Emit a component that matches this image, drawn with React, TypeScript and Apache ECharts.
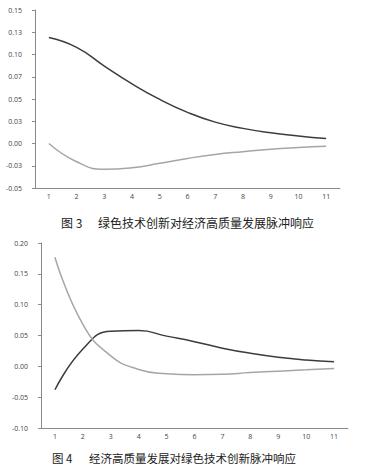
import React, { useEffect, useRef } from "react";
import * as echarts from "echarts";

const categories = ["1", "2", "3", "4", "5", "6", "7", "8", "9", "10", "11"];

// Figure 3
const fig3TechOnQuality = [0.119, 0.108, 0.087, 0.067, 0.0495, 0.035, 0.024, 0.017, 0.012, 0.0085, 0.0055];
const fig3Second = [0.0, -0.0205, -0.029, -0.0272, -0.0223, -0.0168, -0.0123, -0.0092, -0.0064, -0.0045, -0.003];
const fig3YLabels = ["-0.05", "-0.03", "0.00", "0.03", "0.05", "0.07", "0.10", "0.13", "0.15"];

// Figure 4
const fig4QualityOnTech = [-0.038, 0.028, 0.057, 0.058, 0.049, 0.04, 0.0295, 0.0212, 0.0148, 0.0103, 0.0073];
const fig4Second = [0.177, 0.068, 0.017, -0.005, -0.012, -0.0138, -0.013, -0.0102, -0.0078, -0.0057, -0.0035];
const fig4YLabels = ["-0.10", "-0.05", "0.00", "0.05", "0.10", "0.15", "0.20"];

const caption3Num = "图 3";
const caption3Text = "绿色技术创新对经济高质量发展脉冲响应";
const caption4Num = "图 4";
const caption4Text = "经济高质量发展对绿色技术创新脉冲响应";

const DARK = "#3c3c3c";
const LIGHT = "#a6a6a6";
const AXIS = "#8a8a8a";
const LABEL = "#444";
const FONT = "'Open Sans', 'DejaVu Sans', sans-serif";
const CJK = "'Noto Sans CJK SC', sans-serif";

export default function App() {
  const ref = useRef<HTMLDivElement>(null);
  useEffect(() => {
    if (!ref.current) return;
    const chart = echarts.init(ref.current, undefined, { renderer: "svg" });
    const xAxisBase = (gridIndex: number) => ({
      type: "category" as const,
      gridIndex,
      data: categories,
      boundaryGap: true,
      axisLine: { onZero: false, lineStyle: { color: AXIS, width: 1 } },
      axisTick: { alignWithLabel: true, length: 3, lineStyle: { color: AXIS } },
      axisLabel: { fontSize: 7, color: LABEL, margin: 5, fontFamily: FONT },
      splitLine: { show: false },
    });
    const yAxisBase = (gridIndex: number, min: number, max: number, interval: number, labels: string[]) => ({
      type: "value" as const,
      gridIndex,
      min,
      max,
      interval,
      axisLine: { show: true, onZero: false, lineStyle: { color: AXIS, width: 1 } },
      axisTick: { show: true, length: 3, lineStyle: { color: AXIS } },
      axisLabel: {
        fontSize: 7,
        color: LABEL,
        margin: 13,
        fontFamily: FONT,
        showMinLabel: true,
        showMaxLabel: true,
        formatter: (v: number) => labels[Math.round((v - min) / interval)] ?? "",
      },
      splitLine: { show: false },
    });
    const lineSeries = (data: number[], color: string, idx: number) => ({
      type: "line" as const,
      xAxisIndex: idx,
      yAxisIndex: idx,
      data,
      smooth: 0.5,
      showSymbol: false,
      symbol: "none",
      lineStyle: { color, width: 1.5 },
    });
    chart.setOption({
      animation: false,
      backgroundColor: "#fff",
      grid: [
        { left: 35, top: 10, width: 305, height: 178 },
        { left: 41, top: 243, width: 307, height: 185 },
      ],
      xAxis: [xAxisBase(0), xAxisBase(1)],
      yAxis: [
        yAxisBase(0, -0.05, 0.15, 0.025, fig3YLabels),
        yAxisBase(1, -0.1, 0.2, 0.05, fig4YLabels),
      ],
      series: [
        lineSeries(fig3TechOnQuality, DARK, 0),
        lineSeries(fig3Second, LIGHT, 0),
        lineSeries(fig4QualityOnTech, DARK, 1),
        lineSeries(fig4Second, LIGHT, 1),
      ],
      graphic: [
        { type: "text", x: 61, y: 222, style: { text: caption3Num, font: `12px ${CJK}`, fill: "#222", verticalAlign: "middle" } },
        { type: "text", x: 98, y: 222, style: { text: caption3Text, font: `12px ${CJK}`, fill: "#222", verticalAlign: "middle" } },
        { type: "text", x: 52, y: 457.5, style: { text: caption4Num, font: `11.5px ${CJK}`, fill: "#222", verticalAlign: "middle" } },
        { type: "text", x: 89, y: 457.5, style: { text: caption4Text, font: `11.5px ${CJK}`, fill: "#222", verticalAlign: "middle" } },
      ],
    });
    return () => chart.dispose();
  }, []);
  return (
    <div
      ref={ref}
      style={{ position: "absolute", left: 0, top: 0, width: 370, height: 464 }}
    />
  );
}
